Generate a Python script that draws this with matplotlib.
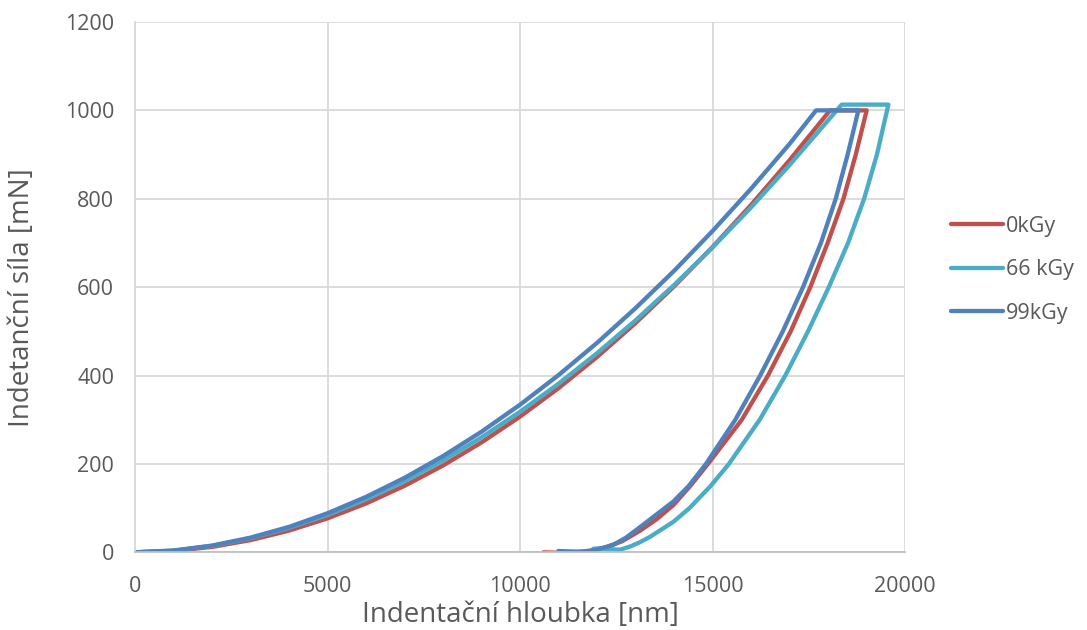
import matplotlib
matplotlib.use("Agg")
import matplotlib.pyplot as plt

plt.rcParams['font.family'] = ['Open Sans', 'DejaVu Sans']

# Loading branch depths shared by the three samples [nm]
load_depth = [0, 1000, 2000, 3000, 4000, 5000, 6000, 7000, 8000, 9000,
              10000, 11000, 12000, 13000, 14000, 15000, 16000, 17000]

# ---- 0 kGy ----
load_force_0 = [0, 3.1, 12.3, 27.6, 49.1, 76.8, 110.5, 150.4, 196.5, 248.7,
                307, 371.5, 442, 518.8, 601.7, 690.8, 786, 887.2]
hold_depth_0 = [18052, 19004]
hold_force_0 = [1000, 1000]
unload_depth_0 = [18720, 18400, 17990, 17540, 17030, 16440, 15760, 14880,
                  14420, 13983, 13550, 13117, 12650, 12250, 11850, 11400,
                  11000, 10606]
unload_force_0 = [900, 800, 700, 600, 500, 400, 300, 200,
                  150, 107, 75, 49, 25, 12, 4, 0,
                  -1, 0]

# ---- 66 kGy ----
load_force_66 = [0, 3.9, 14.7, 31.9, 55.3, 84.6, 119.9, 160.9, 207.7, 260,
                 318, 381.5, 450.5, 524.9, 604.7, 689.9, 780.4, 876.2]
extra_depth_66 = [18000]
extra_force_66 = [977.3]
hold_depth_66 = [18355, 19567]
hold_force_66 = [1013, 1013]
unload_depth_66 = [19270, 18937, 18520, 18020, 17480, 16890, 16225, 15425,
                   14950, 14400, 13983, 13377, 13117, 12857, 12600, 12300,
                   12050, 11900]
unload_force_66 = [900, 800, 700, 600, 500, 400, 300, 200,
                   150, 100, 69, 35, 23, 13, 6, 7,
                   9, 8]

# ---- 99 kGy ----
load_force_99 = [0, 4.0, 15.2, 33.2, 57.6, 88.4, 125.4, 168.5, 217.7, 272.9,
                 334, 401, 473.9, 552.5, 636.8, 727, 822.7, 924]
hold_depth_99 = [17690, 18788]
hold_force_99 = [1000, 1000]
unload_depth_99 = [18510, 18200, 17815, 17350, 16825, 16237, 15592, 14830,
                   14380, 13983, 13117, 12750, 12424, 12000, 11645, 11300,
                   10996]
unload_force_99 = [900, 800, 700, 600, 500, 400, 300, 200,
                   150, 115, 57, 33, 17, 6, 1, 2,
                   3]

labels = ['0kGy', '66 kGy', '99kGy']
colors = ['#C0504D', '#4BACC6', '#4F81BD']

x_ticks = [0, 5000, 10000, 15000, 20000]
y_ticks = [0, 200, 400, 600, 800, 1000, 1200]

series = [
    (load_depth + hold_depth_0 + unload_depth_0,
     load_force_0 + hold_force_0 + unload_force_0),
    (load_depth + extra_depth_66 + hold_depth_66 + unload_depth_66,
     load_force_66 + extra_force_66 + hold_force_66 + unload_force_66),
    (load_depth + hold_depth_99 + unload_depth_99,
     load_force_99 + hold_force_99 + unload_force_99),
]

fig = plt.figure(figsize=(10.87, 6.30), dpi=100)
ax = fig.add_axes([0.1242, 0.1233, 0.7084, 0.8418])

for (h, f), lab, col in zip(series, labels, colors):
    ax.plot(h, f, color=col, lw=3.1, label=lab,
            solid_joinstyle='round', solid_capstyle='round')

ax.set_xlim(0, 20000)
ax.set_ylim(0, 1200)
ax.set_xticks(x_ticks)
ax.set_yticks(y_ticks)
ax.grid(True, color='#D9D9D9', lw=1.3)
ax.set_axisbelow(True)

for side in ['top', 'right']:
    ax.spines[side].set_visible(False)
ax.spines['left'].set_color('#D9D9D9')
ax.spines['left'].set_linewidth(1.3)
ax.spines['bottom'].set_color('#BFBFBF')
ax.spines['bottom'].set_linewidth(1.3)

ax.tick_params(axis='both', length=0, labelsize=15.5, colors='#595959')
ax.tick_params(axis='x', pad=17)
ax.tick_params(axis='y', pad=15)

ax.set_xlabel('Indentační hloubka [nm]', fontsize=20, color='#595959', labelpad=3)
ax.set_ylabel('Indetanční síla [mN]', fontsize=20, color='#595959')
ax.yaxis.set_label_coords(-0.128, 0.48)

leg = ax.legend(loc='center left', bbox_to_anchor=(1.048, 0.533), frameon=False,
                fontsize=15.5, handlelength=2.45, handletextpad=0.12,
                labelspacing=1.05, borderaxespad=0)
for t in leg.get_texts():
    t.set_color('#595959')

fig.savefig('out.png', dpi=100)
